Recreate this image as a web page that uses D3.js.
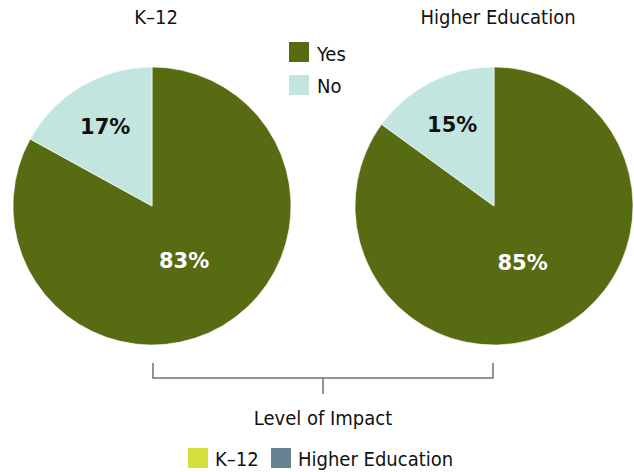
<!DOCTYPE html>
<html>
<head>
<meta charset="utf-8">
<script src="https://cdn.jsdelivr.net/npm/d3@7"></script>
<style>
  html, body { margin: 0; padding: 0; background: #fff; }
  svg { display: block; }
  text { font-family: "DejaVu Sans Condensed", "DejaVu Sans", sans-serif; }
</style>
</head>
<body>
<svg id="chart" width="634" height="472"></svg>
<script>
// ---- Data ----
const groups = ["K–12", "Higher Education"];
const answers = ["Yes", "No"];
const yesValues = [83, 85];   // Yes % per group
const noValues = [17, 15];    // No % per group
const legendGroups = ["K–12", "Higher Education"];

// ---- Style ----
const answerColors = { "Yes": "#566b12", "No": "#c3e5df" };
const groupColors = { "K–12": "#d5e13b", "Higher Education": "#64828f" };
const labelColors = { "Yes": "#ffffff", "No": "#111111" };
const labelRadius = { "Yes": 63, "No": 92 };

const svg = d3.select("#chart");
const radius = 139;
const cy = 206;
const xPie = d3.scalePoint().domain(groups).range([152, 494]);

const pie = d3.pie().sort(null).value(d => d.value);
const arc = d3.arc().innerRadius(0).outerRadius(radius);

groups.forEach((g, i) => {
  const data = [
    { answer: "Yes", value: yesValues[i] },
    { answer: "No", value: noValues[i] }
  ];
  const cx = xPie(g);
  const gEl = svg.append("g").attr("transform", `translate(${cx},${cy})`);
  const arcs = pie(data);
  gEl.selectAll("path.slice").data(arcs).join("path")
    .attr("class", "slice")
    .attr("d", arc)
    .attr("fill", d => answerColors[d.data.answer])
    .attr("stroke", "#ffffff")
    .attr("stroke-width", 0.6);
  gEl.selectAll("text.pct").data(arcs).join("text")
    .attr("class", "pct")
    .attr("transform", d => {
      const r = labelRadius[d.data.answer];
      const a = d3.arc().innerRadius(r).outerRadius(r);
      const [x, y] = a.centroid(d);
      return `translate(${x},${y})`;
    })
    .attr("dy", "0.36em")
    .attr("text-anchor", "middle")
    .style("font-family", "'DejaVu Sans', sans-serif")
    .style("font-weight", "bold")
    .style("font-size", "21px")
    .attr("fill", d => labelColors[d.data.answer])
    .text(d => d.data.value + "%");

  // title
  svg.append("text")
    .attr("x", cx + 4)
    .attr("y", 24)
    .attr("text-anchor", "middle")
    .style("font-size", "20px")
    .attr("fill", "#111")
    .text(g);
});

// Yes/No legend
const leg = svg.append("g").attr("transform", "translate(289,42)");
answers.forEach((a, i) => {
  const row = leg.append("g").attr("transform", `translate(0,${i * 33})`);
  row.append("rect").attr("width", 20).attr("height", 20).attr("fill", answerColors[a]);
  row.append("text").attr("x", 28).attr("y", 18.5 - (i ? 1 : 0))
    .style("font-size", "20px").attr("fill", "#111").text(a);
});

// bracket
const x0 = xPie(groups[0]) + 1, x1 = xPie(groups[1]) - 1, xm = (x0 + x1) / 2;
svg.append("path")
  .attr("d", `M${x0},363V378H${x1}V363M${xm},378V394`)
  .attr("fill", "none")
  .attr("stroke", "#707070")
  .attr("stroke-width", 1.5);

svg.append("text")
  .attr("x", xm)
  .attr("y", 425)
  .attr("text-anchor", "middle")
  .style("font-size", "20px")
  .attr("fill", "#111")
  .text("Level of Impact");

// bottom legend
const legendX = [188, 271];
legendGroups.forEach((g, i) => {
  const row = svg.append("g").attr("transform", `translate(${legendX[i]},448)`);
  row.append("rect").attr("width", 20).attr("height", 20).attr("fill", groupColors[g]);
  row.append("text").attr("x", 27).attr("y", 18)
    .style("font-size", "20px").attr("fill", "#111").text(g);
});
</script>
</body>
</html>
